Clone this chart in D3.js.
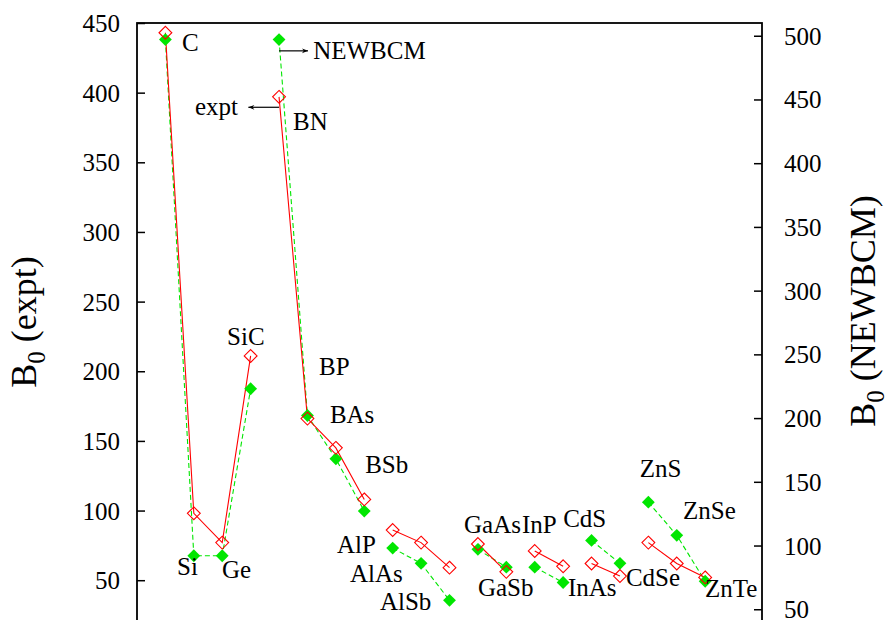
<!DOCTYPE html>
<html>
<head>
<meta charset="utf-8">
<script src="https://cdn.jsdelivr.net/npm/d3@7"></script>
</head>
<body style="margin:0; background:#fff">
<svg id="chart"></svg>
<script>
// materials in plotting order (x = 1..20)
const materials = ["C", "Si", "Ge", "SiC", "BN", "BP", "BAs", "BSb", "AlP", "AlAs", "AlSb",
  "GaAs", "GaSb", "InP", "InAs", "CdS", "CdSe", "ZnS", "ZnSe", "ZnTe"];
// experimental bulk modulus (left axis)
const expt = [443, 98, 77, 211, 397, 166, 145, 108, 86, 77, 59, 76, 56, 71, 60, 62, 53, 77, 62, 52];
// NEWBCM bulk modulus (right axis)
const newbcm = [497, 92, 92, 223, 497, 202, 168, 127, 98, 86, 57, 97, 83, 83, 71, 104, 86, 134, 108, 72];
// groups joined by lines (gnuplot blank-line blocks)
const groups = [[0, 4], [4, 8], [8, 11], [11, 13], [13, 15], [15, 17], [17, 20]];
const leftTicks = [50, 100, 150, 200, 250, 300, 350, 400, 450];
const rightTicks = [50, 100, 150, 200, 250, 300, 350, 400, 450, 500];
// label placement in (x, left-axis) coordinates
const labelX = [1.58, 1.41, 2.99, 3.17, 5.49, 6.41, 6.79, 8.03, 7.04, 7.5, 8.55,
  11.51, 12.0, 13.55, 15.17, 15.0, 17.21, 17.7, 19.22, 19.99];
const labelY = [430, 54, 51.7, 219, 373, 197, 163, 127, 69.7, 48.9, 28.8,
  84, 38.8, 84, 38.8, 88.3, 46, 124, 94, 38];

const width = 889, height = 620;
const margin = { top: 23, right: 127, bottom: -2, left: 137 };

const svg = d3.select("#chart")
  .attr("width", width)
  .attr("height", height);

const x = d3.scaleLinear().domain([0, 22]).range([margin.left, width - margin.right]);
const yL = d3.scaleLinear().domain([20, 450]).range([height - margin.bottom, margin.top]);
const yR = d3.scaleLinear().domain([40, 510]).range([height - margin.bottom, margin.top]);

const red = "#ff0000", green = "#00e600";

// arrowhead marker
svg.append("defs").append("marker")
  .attr("id", "head")
  .attr("viewBox", "0 -5 10 10")
  .attr("refX", 10).attr("refY", 0)
  .attr("markerWidth", 10).attr("markerHeight", 6)
  .attr("markerUnits", "userSpaceOnUse")
  .attr("orient", "auto")
  .append("path")
  .attr("d", "M0,-4L10,0L0,4L3,0Z")
  .attr("fill", "#000");

// lines for each group
const lineL = d3.line().x(i => x(i + 1)).y(i => yL(expt[i]));
const lineR = d3.line().x(i => x(i + 1)).y(i => yR(newbcm[i]));

groups.forEach(([a, b]) => {
  const idx = d3.range(a, b);
  svg.append("path")
    .attr("d", lineR(idx))
    .attr("fill", "none")
    .attr("stroke", green)
    .attr("stroke-width", 1.1)
    .attr("stroke-dasharray", "5,3");
  svg.append("path")
    .attr("d", lineL(idx))
    .attr("fill", "none")
    .attr("stroke", red)
    .attr("stroke-width", 1.1);
});

const diamond = d3.symbol().type(d3.symbolDiamond2).size(105);

// NEWBCM points
svg.append("g")
  .selectAll("path")
  .data(newbcm)
  .join("path")
  .attr("d", diamond)
  .attr("transform", (d, i) => `translate(${x(i + 1)},${yR(d)})`)
  .attr("fill", green);

// expt points
svg.append("g")
  .selectAll("path")
  .data(expt)
  .join("path")
  .attr("d", diamond)
  .attr("transform", (d, i) => `translate(${x(i + 1)},${yL(d)})`)
  .attr("fill", "none")
  .attr("stroke", red)
  .attr("stroke-width", 1.1);

// material labels
svg.append("g")
  .selectAll("text")
  .data(materials)
  .join("text")
  .attr("x", (d, i) => x(labelX[i]))
  .attr("y", (d, i) => yL(labelY[i]))
  .attr("font-size", 25)
  .text(d => d);

// arrows with series names
svg.append("line")
  .attr("x1", x(5)).attr("y1", yL(430))
  .attr("x2", x(6.02)).attr("y2", yL(430))
  .attr("stroke", "#000").attr("stroke-width", 1.2)
  .attr("marker-end", "url(#head)");
svg.append("text")
  .attr("x", x(6.2)).attr("y", yL(424))
  .attr("font-size", 25)
  .text("NEWBCM");

svg.append("line")
  .attr("x1", x(5)).attr("y1", yL(389.5))
  .attr("x2", x(3.92)).attr("y2", yL(389.5))
  .attr("stroke", "#000").attr("stroke-width", 1.2)
  .attr("marker-end", "url(#head)");
svg.append("text")
  .attr("x", x(2.04)).attr("y", yL(384))
  .attr("font-size", 25)
  .text("expt");

// axes (ticks pointing inward)
const axisL = svg.append("g")
  .attr("transform", `translate(${margin.left},0)`)
  .call(d3.axisRight(yL).tickValues(leftTicks).tickSize(8).tickFormat(d3.format("d")));
axisL.select(".domain").remove();
axisL.selectAll("line").attr("stroke", "#000").attr("stroke-width", 1.5);
axisL.selectAll("text")
  .attr("x", -17)
  .attr("dy", "0.34em")
  .attr("text-anchor", "end")
  .attr("font-size", 25);

const axisR = svg.append("g")
  .attr("transform", `translate(${width - margin.right},0)`)
  .call(d3.axisLeft(yR).tickValues(rightTicks).tickSize(8).tickFormat(d3.format("d")));
axisR.select(".domain").remove();
axisR.selectAll("line").attr("stroke", "#000").attr("stroke-width", 1.5);
axisR.selectAll("text")
  .attr("x", 22)
  .attr("dy", "0.34em")
  .attr("text-anchor", "start")
  .attr("font-size", 25);

// frame
svg.append("rect")
  .attr("x", margin.left)
  .attr("y", margin.top)
  .attr("width", width - margin.right - margin.left)
  .attr("height", height - margin.bottom - margin.top)
  .attr("fill", "none")
  .attr("stroke", "#000")
  .attr("stroke-width", 1.8);

// axis titles
function axisTitle(tx, ty, rest) {
  const t = svg.append("text")
    .attr("transform", `translate(${tx},${ty}) rotate(-90)`)
    .attr("text-anchor", "middle")
    .attr("font-size", 36);
  t.append("tspan").text("B");
  t.append("tspan").attr("font-size", 25).attr("dy", 9).text("0");
  t.append("tspan").attr("dy", -9).text(" " + rest);
}
axisTitle(36, 322, "(expt)");
axisTitle(875, 311, "(NEWBCM)");

// serif everywhere
svg.selectAll("text").style("font-family", "\"Liberation Serif\"").style("fill", "#000");
</script>
</body>
</html>
